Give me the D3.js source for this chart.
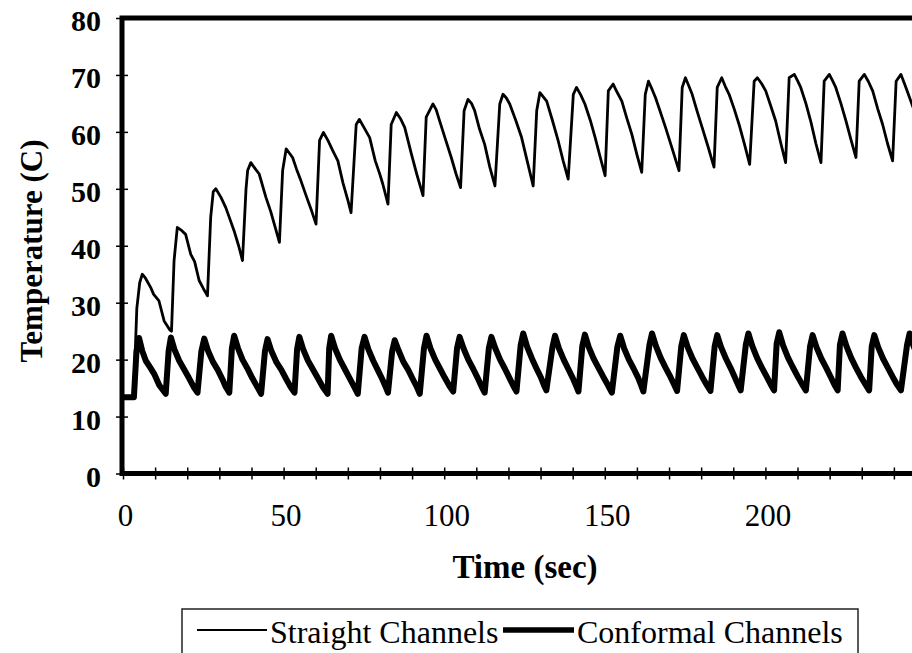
<!DOCTYPE html>
<html>
<head>
<meta charset="utf-8">
<script src="https://cdn.jsdelivr.net/npm/d3@7"></script>
<style>
  html, body { margin: 0; padding: 0; background: #fff; }
  svg { display: block; }
  text { font-family: "Liberation Serif", "Times New Roman", serif; fill: #000; }
</style>
</head>
<body>
<svg></svg>
<script>
// time (sec), temperature (C)
const straightChannels = [
  [0,13.3],[3.3,13.3],[4.3,29],[5.2,33.5],[6.0,35.0],[7.0,34.3],[8.6,32.7],[9.5,31.5],[11.2,30.3],[12.8,26.8],[14.6,25.2],[15.1,25.0],
  [15.9,37.4],[16.9,43.2],[18.0,42.8],[19.5,42.0],[21.1,38.5],[22.3,37.2],[23.7,33.9],[25.0,32.5],[26.3,31.2],
  [27.3,45],[28.1,49.5],[28.9,50.0],[30.5,48.5],[32.0,46.7],[33.4,44.5],[34.6,42.6],[36.0,40],[37.2,37.4],
  [38.3,50],[38.8,53.2],[39.8,54.6],[41.2,53.5],[42.4,52.6],[44.5,48.5],[46,46],[47.5,43],[48.7,40.6],
  [49.7,53.2],[50.8,57.0],[52.8,55.5],[54,53.5],[55.4,51.4],[57.2,48.5],[58.8,46],[60.1,43.8],
  [61.2,58.5],[62.4,59.9],[63.8,58.5],[65.3,56.7],[66.9,54.9],[68.5,51],[70,48],[71.0,45.8],
  [72.6,61.3],[73.6,62.2],[75,60.8],[76.8,59.0],[78.5,55],[80,52.5],[80.9,50.8],[82.5,47.3],
  [83.5,61.3],[85.1,63.4],[86.5,62.2],[87.7,60.8],[89.8,56.1],[91.5,52.5],[93.4,48.8],
  [94.4,62.6],[96.5,64.9],[97.5,63.9],[98.6,61.9],[100.5,58.5],[102.2,55.5],[103.7,52.6],[105.1,50.2],
  [106.2,63.7],[107.4,65.7],[108.5,65],[109.5,63.7],[111,60.5],[112.6,57.8],[114.2,53.8],[115.8,50.5],
  [117.3,64.9],[118.3,66.6],[119.3,66],[120.4,64.9],[122.3,62],[124.1,59.0],[126,54.5],[127.7,50.5],
  [128.8,63.7],[129.8,66.9],[131.9,65.4],[133.7,62],[135.5,58.4],[137,55],[138.6,51.7],
  [140.2,66.6],[141.2,67.8],[142.5,66.5],[143.8,64.9],[145.5,62],[147.0,59.0],[148.6,55.5],[150.1,52.3],
  [151.1,67.2],[152.6,68.4],[153.8,67],[155.3,65.4],[156.8,62.5],[158.4,59.6],[160,56],[161.5,52.9],
  [162.6,66.6],[163.6,68.9],[164.7,67.5],[165.8,66.0],[167.3,63.5],[168.9,60.8],[171,57],[173.1,53.2],
  [174.1,67.8],[175.1,69.5],[176.2,68],[177.2,66.6],[178.8,63.5],[180.3,60.8],[182.2,57.3],[184.0,53.8],
  [185.0,67.8],[186.4,69.5],[187.5,68],[188.7,66.6],[190.3,64],[191.8,61.3],[193.5,57.8],[195.1,54.3],
  [196.5,68.9],[197.5,69.5],[198.8,68.5],[200.1,67.2],[201.7,64.5],[203.2,61.9],[204.8,58],[206.3,54.6],
  [207.4,69.5],[209.0,70.1],[210,69],[211.0,67.8],[212.6,65],[214.1,61.9],[215.7,58],[217.3,54.6],
  [218.3,68.9],[219.9,70.1],[220.9,69],[221.9,67.8],[223.5,65],[225.1,61.9],[226.7,58.5],[228.2,55.5],
  [229.2,68.9],[230.8,70.1],[232.1,68.8],[233.4,67.2],[235,64],[236.5,61.3],[238,58],[239.6,54.9],
  [240.7,68.9],[242.2,70.1],[243.6,68],[244.9,66.0],[246.5,63.5],[248,61],[250,57.5]
];

const conformalChannels = [
  [0,13.4],[3.4,13.4],[4.2,21.5],[5.0,23.8],[6.0,21.5],[7.1,19.8],[8.5,18.6],[9.7,17.5],[11.3,15.5],[13.3,14.0],
  [14.2,21.5],[14.9,23.9],[16.0,21.8],[17.5,19.8],[19,18.3],[20.5,16.8],[22,15.2],[23.2,14.2],
  [24.4,21.5],[25.3,23.7],[26.5,21.5],[28,19.6],[29.5,18.2],[31,16.5],[32,15.2],[33.1,14.2],
  [33.9,22],[34.6,24.2],[35.8,22],[37.2,20],[38.7,18.5],[40.2,16.8],[41.7,15.3],[43.0,14.0],
  [44.2,21.5],[45.0,23.6],[46.2,21.5],[47.8,19.5],[49.3,18.2],[50.8,16.6],[52.2,15.2],[53.4,14.2],
  [54.2,21.8],[54.9,24.0],[56.1,21.8],[57.6,19.8],[59.1,18.3],[60.6,16.8],[62.2,15.2],[63.7,14.0],
  [64.2,22],[64.8,24.2],[66,22],[67.5,20],[69,18.4],[70.5,16.8],[71.9,15.3],[73.1,14.0],
  [74.3,22],[75.2,24.0],[76.4,21.8],[77.9,19.8],[79.3,18.2],[80.7,16.6],[81.7,15.3],[82.5,14.2],
  [83.8,21.5],[84.6,23.4],[85.8,21.6],[87.3,19.6],[88.8,18.2],[90.2,16.6],[91.4,15.3],[92.4,14.0],
  [93.7,22],[94.5,24.2],[95.7,22],[97.2,20],[98.7,18.4],[100.2,16.8],[101.6,15.4],[102.8,14.4],
  [104,22],[104.8,24.0],[106,22],[107.5,20],[109,18.4],[110.4,16.8],[111.6,15.3],[112.6,14.2],
  [113.9,22],[114.7,24.0],[115.9,22],[117.4,20],[118.9,18.4],[120.3,16.8],[121.5,15.4],[122.5,14.4],
  [123.8,22.5],[124.6,24.6],[125.8,22.3],[127.3,20.2],[128.7,18.5],[130,17],[131,15.6],[131.8,14.6],
  [133.7,22.2],[134.5,24.2],[135.7,22],[137.2,20],[138.6,18.4],[140,16.8],[141,15.5],[141.8,14.4],
  [143,22.4],[143.8,24.4],[145,22.2],[146.5,20.2],[148,18.6],[149.5,17],[151,15.5],[152.2,14.2],
  [153.9,22.2],[154.8,24.2],[156,22],[157.5,20],[159,18.4],[160.4,16.8],[161.3,15.5],[162.0,14.4],
  [163.9,22.6],[164.7,24.6],[165.9,22.4],[167.4,20.3],[168.9,18.6],[170.4,17],[171.6,15.6],[172.5,14.5],
  [173.8,22.3],[174.6,24.3],[175.8,22.2],[177.3,20.2],[178.8,18.6],[180.3,17],[181.8,15.5],[182.9,14.5],
  [184.2,22.3],[185.0,24.3],[186.2,22.2],[187.7,20.2],[189.1,18.6],[190.4,17],[191.5,15.6],[192.3,14.6],
  [193.9,22.6],[194.7,24.6],[195.9,22.4],[197.4,20.3],[198.9,18.6],[200.4,17],[201.7,15.6],[202.7,14.6],
  [203.5,22.8],[204.3,24.8],[205.5,22.5],[207,20.4],[208.5,18.7],[210,17.1],[211.4,15.7],[212.6,14.6],
  [213.9,22.3],[214.7,24.3],[215.9,22.2],[217.4,20.2],[218.9,18.6],[220.3,17],[221.5,15.6],[222.5,14.6],
  [223.2,22.6],[224.0,24.6],[225.2,22.4],[226.7,20.3],[228.2,18.6],[229.7,17],[231.2,15.6],[232.3,14.6],
  [233.1,22.3],[233.9,24.3],[235.1,22.2],[236.6,20.2],[238.1,18.6],[239.6,17],[241,15.6],[242.2,14.6],
  [244.1,22.6],[244.9,24.6],[246.1,22.4],[247.6,20.3],[249.1,18.6],[250,17.8]
];

const xTicks = d3.range(0, 251, 10);
const xLabels = [0, 50, 100, 150, 200];
const yTicks = [0, 10, 20, 30, 40, 50, 60, 70, 80];
const seriesNames = ["Straight Channels", "Conformal Channels"];

const width = 912;
const height = 653;

const svg = d3.select('svg').attr('width', width).attr('height', height);

// plot box runs past the right edge of the picture, like the scan
const x = d3.scaleLinear().domain([0, 250]).range([123, 926]);
const y = d3.scaleLinear().domain([0, 80]).range([473.5, 18]);

const line = d3.line().x(d => x(d[0])).y(d => y(d[1]));

svg.append('g')
    .attr('transform', `translate(0,${y(0)})`)
    .call(d3.axisBottom(x).tickValues(xTicks).tickSize(6)
      .tickFormat(d => xLabels.includes(d) ? d : ''))
    .call(g => g.select('.domain').remove())
    .call(g => g.selectAll('.tick line').attr('y1', -6).attr('stroke-width', 1.5))
    .call(g => g.selectAll('.tick text')
      .attr('y', 30)
      .attr('dx', 2)
      .attr('font-family', '"Liberation Serif", serif')
      .attr('font-size', 31));

svg.append('g')
    .attr('transform', `translate(${x(0) - 1},0)`)
    .call(d3.axisLeft(y).tickValues(yTicks).tickSize(6))
    .call(g => g.select('.domain').remove())
    .call(g => g.selectAll('.tick line').attr('x1', 6).attr('stroke-width', 1.5))
    .call(g => g.selectAll('.tick text')
      .attr('x', -21)
      .attr('dy', '0.42em')
      .attr('font-family', '"Liberation Serif", serif')
      .attr('font-weight', 'bold')
      .attr('font-size', 30));

// thick frame (left, top, bottom)
svg.append('path')
    .attr('d', `M${x(250)},${y(80)} H${x(0) - 1} V${y(0)} H${x(250)}`)
    .attr('fill', 'none')
    .attr('stroke', '#000')
    .attr('stroke-width', 5);

svg.append('path')
    .datum(conformalChannels)
    .attr('d', line)
    .attr('fill', 'none')
    .attr('stroke', '#000')
    .attr('stroke-width', 6)
    .attr('stroke-linejoin', 'round');

svg.append('path')
    .datum(straightChannels)
    .attr('d', line)
    .attr('fill', 'none')
    .attr('stroke', '#000')
    .attr('stroke-width', 2.8)
    .attr('stroke-linejoin', 'round');

svg.append('text')
    .attr('x', 525)
    .attr('y', 578)
    .attr('text-anchor', 'middle')
    .attr('font-weight', 'bold')
    .attr('font-size', 33)
    .text('Time (sec)');

svg.append('text')
    .attr('transform', 'translate(42,251) rotate(-90)')
    .attr('text-anchor', 'middle')
    .attr('font-weight', 'bold')
    .attr('font-size', 31)
    .text('Temperature (C)');

// legend, cut off by the bottom of the picture
const legend = svg.append('g');
legend.append('rect')
    .attr('x', 182).attr('y', 609)
    .attr('width', 676).attr('height', 60)
    .attr('fill', '#fff')
    .attr('stroke', '#222')
    .attr('stroke-width', 1.5);

const legendItems = [
  { name: seriesNames[0], x1: 197, x2: 267, w: 2.2, tx: 270 },
  { name: seriesNames[1], x1: 503, x2: 574, w: 5.5, tx: 577 }
];

legendItems.forEach(d => {
  legend.append('line')
      .attr('x1', d.x1).attr('x2', d.x2)
      .attr('y1', 630).attr('y2', 630)
      .attr('stroke', '#000')
      .attr('stroke-width', d.w);
  legend.append('text')
      .attr('x', d.tx)
      .attr('y', 643)
      .attr('font-size', 32)
      .text(d.name);
});
</script>
</body>
</html>
